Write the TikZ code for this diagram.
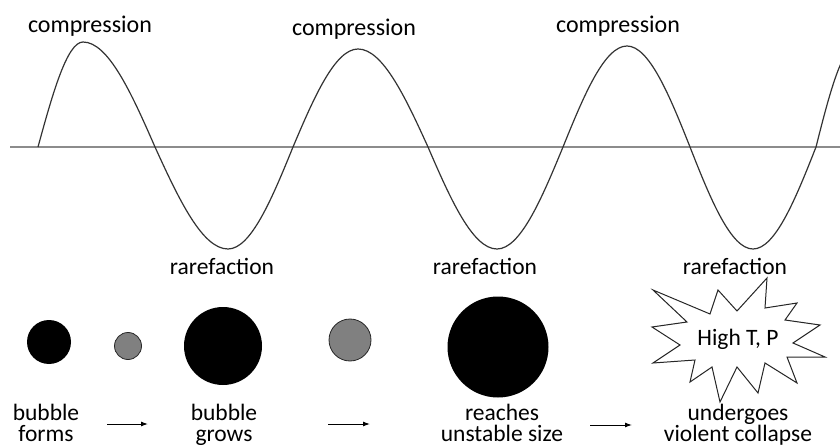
\documentclass[tikz,border=0pt]{standalone}
\usepackage{fontspec}
\setmainfont{Carlito}
\usetikzlibrary{arrows.meta}
\definecolor{bubgray}{HTML}{808080}
\definecolor{axisgray}{HTML}{8C8C8C}
\tikzset{
  lbltop/.style={font=\fontsize{24}{24}\selectfont, inner sep=0pt, anchor=base},
  lbl/.style={font=\fontsize{23.5}{21}\selectfont, inner sep=0pt, anchor=base},
  lblbot/.style={font=\fontsize{23.5}{21}\selectfont, inner sep=0pt, anchor=base, align=center},
  blackbub/.style={circle, fill=black, inner sep=0pt},
  graybub/.style={circle, fill=bubgray, draw=black!85, line width=0.8pt, inner sep=0pt},
  wave/.style={draw=black!80, line width=1.2pt},
  axisline/.style={draw=axisgray, line width=1.2pt},
  steparrow/.style={draw=black, line width=1pt, -{Latex[length=7pt,width=5pt]}},
  burst/.style={draw=black!85, line width=1pt, fill=white}
}
\begin{document}
\begin{tikzpicture}[x=1pt,y=-1pt]
\useasboundingbox (0,0) rectangle (840,446);
% axis
\coordinate (ax1) at (10,147);
\coordinate (ax2) at (840,147);
\draw[axisline] (ax1) -- (ax2);
% wave
\begin{scope}
\clip (0,0) rectangle (840,446);
\draw[wave] (38,147)
  .. controls (52.7,93.2) and (67.2,42) .. (83,42)
  .. controls (108.3,42) and (131.5,93.2) .. (155,147)
  .. controls (178.8,199.2) and (202.3,249) .. (228,249)
  .. controls (250.8,249) and (271.8,199.2) .. (293,147)
  .. controls (314.2,96.8) and (335.2,49) .. (358,49)
  .. controls (382.6,49) and (405.2,96.8) .. (428,147)
  .. controls (450.5,199.2) and (472.7,249) .. (497,249)
  .. controls (520.2,249) and (541.5,199.2) .. (563,147)
  .. controls (583.9,95.3) and (604.5,46) .. (627,46)
  .. controls (649.1,46) and (669.5,95.3) .. (690,147)
  .. controls (710.5,199.2) and (730.9,249) .. (753,249)
  .. controls (775.1,249) and (795.5,199.2) .. (816,147)
  .. controls (829,95.3) and (841.9,46) .. (856,46);
\end{scope}
% labels on wave
\node[lbltop] (comp1) at (90,33) {compression};
\node[lbltop] (comp2) at (354,36) {compression};
\node[lbltop] (comp3) at (618,33) {compression};
\node[lbl] (rare1) at (222,275) {rarefaction};
\node[lbl] (rare2) at (485,275) {rarefaction};
\node[lbl] (rare3) at (735,275) {rarefaction};
% bubbles
\node[blackbub, minimum size=44pt] (b1) at (49,342) {};
\node[graybub, minimum size=27pt] (b2) at (128,346) {};
\node[blackbub, minimum size=78pt] (b3) at (223,346) {};
\node[graybub, minimum size=42pt] (b4) at (350,340) {};
\node[blackbub, minimum size=101pt] (b5) at (498,347) {};
% starburst
\draw[burst] (653,290) -- (710,314) -- (718,290) -- (737,311) -- (767,278)
  -- (765,308) -- (797,303) -- (785,320) -- (820,325) -- (793,343)
  -- (825,357) -- (787,357) -- (797,383) -- (765,363) -- (758,393)
  -- (737,367) -- (720,402) -- (712,367) -- (690,382) -- (695,360)
  -- (653,363) -- (680,345) -- (652,327) -- (687,322) -- cycle;
\node[lbl] (hot) at (738,345) {High T, P};
% step labels (base = last line)
\node[lblbot] (s1) at (46,441) {bubble\\forms};
\node[lblbot] (s2) at (224,441) {bubble\\grows};
\node[lblbot] (s3) at (502,441) {reaches\\unstable size};
\node[lblbot] (s4) at (738,441) {undergoes\\violent collapse};
% arrows
\coordinate (a1s) at (107,424); \coordinate (a1e) at (148,424);
\coordinate (a2s) at (328,424); \coordinate (a2e) at (370,424);
\coordinate (a3s) at (590,425); \coordinate (a3e) at (632,425);
\draw[steparrow] (a1s) -- (a1e);
\draw[steparrow] (a2s) -- (a2e);
\draw[steparrow] (a3s) -- (a3e);
\end{tikzpicture}
\end{document}
